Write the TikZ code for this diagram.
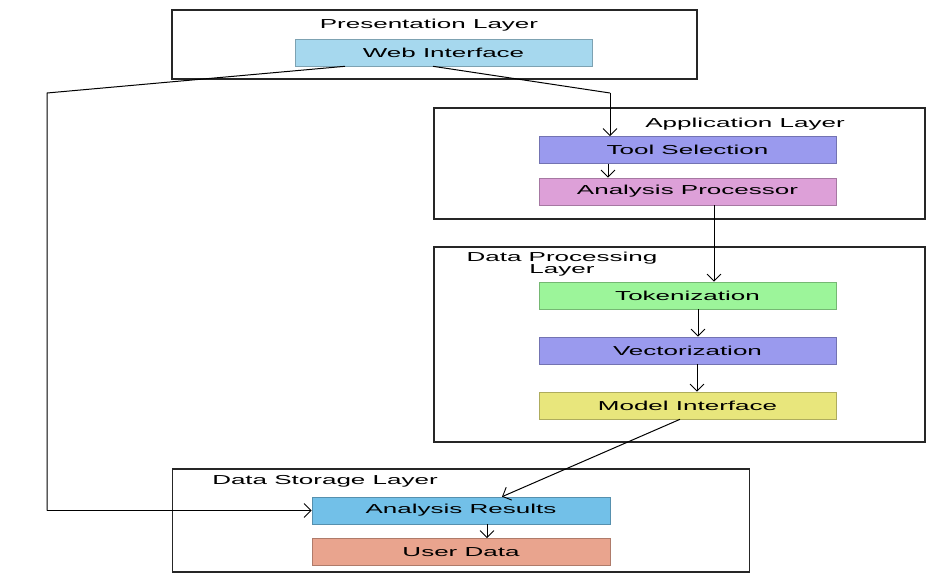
\documentclass[tikz,border=0pt]{standalone}
\usepackage{fontspec}
\usepackage{graphicx}
\setmainfont{Liberation Sans}
\usetikzlibrary{arrows.meta}
\newcommand{\wide}[1]{\scalebox{2.0}[1]{#1}}
\definecolor{webblue}{HTML}{A6D8EE}
\definecolor{toolblue}{HTML}{9A9AEE}
\definecolor{plumc}{HTML}{DDA0D8}
\definecolor{greenc}{HTML}{9CF59A}
\definecolor{yellowc}{HTML}{E8E67C}
\definecolor{resblue}{HTML}{72C0E8}
\definecolor{salmonc}{HTML}{E9A48E}
\tikzset{
  layerbox/.style={draw=black!85, line width=1.3pt, fill=white, inner sep=0pt},
  compbox/.style={draw=#1!75!black, line width=0.6pt, fill=#1, minimum width=297pt, minimum height=27pt, inner sep=0pt, font=\fontsize{13}{14}\selectfont, text=black},
  title/.style={font=\fontsize{13}{12}\selectfont, text=black, align=center, inner sep=0pt},
  conn/.style={draw=black, line width=1pt, -{Straight Barb[length=7pt,width=14pt,line width=0.9pt]}},
  plain/.style={draw=black, line width=1pt}
}
\begin{document}
\begin{tikzpicture}[x=1pt,y=-1pt]
\useasboundingbox[fill=white] (0,0) rectangle (948,576);
% layers
\node[layerbox, minimum width=525pt, minimum height=69pt] (pres) at (434.5,44.5) {};
\node[layerbox, minimum width=491pt, minimum height=111pt] (app) at (679.5,163.5) {};
\node[layerbox, minimum width=491pt, minimum height=195pt] (dp) at (679.5,344.5) {};
\node[layerbox, minimum width=577pt, minimum height=103pt] (ds) at (461,520.5) {};
% titles
\node[title] (tpres) at (429,25.5) {\wide{Presentation Layer}};
\node[title] (tapp) at (745,124) {\wide{Application Layer}};
\node[title] (tdp) at (562,264) {\wide{Data Processing}\\\wide{Layer}};
\node[title] (tds) at (325,481) {\wide{Data Storage Layer}};
% components
\node[compbox=webblue] (web) at (443.5,52.5) {\wide{Web Interface}};
\node[compbox=toolblue] (tool) at (687.5,150) {\wide{Tool Selection}};
\node[compbox=plumc] (proc) at (687.5,191.5) {\wide{Analysis Processor}};
\node[compbox=greenc] (tok) at (687.5,295.5) {\wide{Tokenization}};
\node[compbox=toolblue] (vec) at (687.5,350.5) {\wide{Vectorization}};
\node[compbox=yellowc] (model) at (687.5,405.5) {\wide{Model Interface}};
\node[compbox=resblue, minimum width=298pt] (res) at (461,510.5) {\wide{Analysis Results}};
\node[compbox=salmonc, minimum width=298pt] (user) at (461,552) {\wide{User Data}};
% connectors
\coordinate (wl) at (47,93);
\coordinate (wl2) at (47,510.5);
\coordinate (wr) at (610,93);
\draw[plain] ([xshift=-98.5pt]web.south) -- (wl) -- (wl2);
\draw[conn] (wl2) -- (res.west);
\draw[plain] ([xshift=-10.5pt]web.south) -- (wr);
\draw[conn] (wr) -- (wr |- tool.north);
\draw[conn] ([xshift=-79.5pt]tool.south) -- ([xshift=-79.5pt]proc.north);
\draw[conn] ([xshift=26.5pt]proc.south) -- ([xshift=26.5pt]tok.north);
\draw[conn] ([xshift=10.5pt]tok.south) -- ([xshift=10.5pt]vec.north);
\draw[conn] ([xshift=9.5pt]vec.south) -- ([xshift=9.5pt]model.north);
\draw[conn] ([xshift=-7.5pt]model.south) -- ([xshift=41pt]res.north);
\draw[conn] ([xshift=26pt]res.south) -- ([xshift=26pt]user.north);
\end{tikzpicture}
\end{document}
